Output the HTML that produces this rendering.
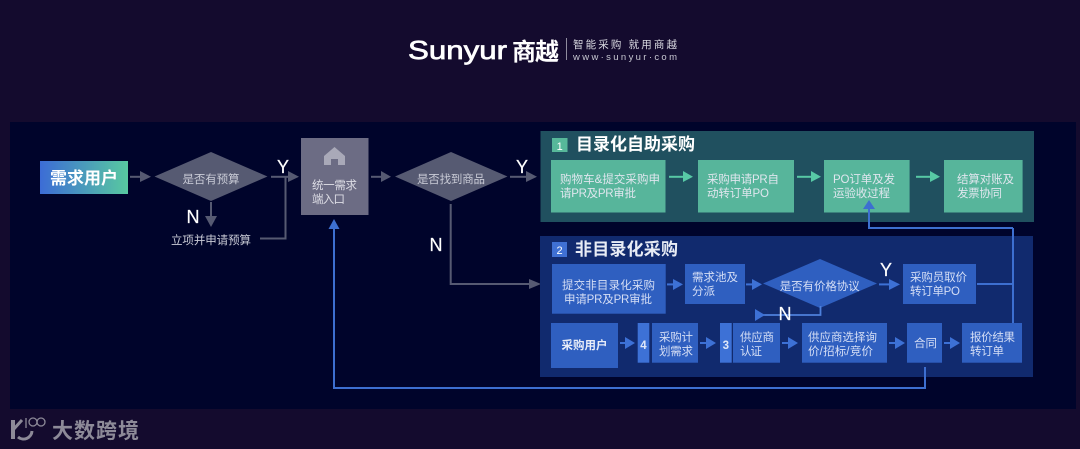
<!DOCTYPE html>
<html><head><meta charset="utf-8"><style>
html,body{margin:0;padding:0;background:#140b2e;width:1080px;height:449px;overflow:hidden}
svg{display:block;filter:blur(0.35px)}
text{font-family:"Liberation Sans","Noto Sans CJK SC",sans-serif}
.t{fill:#dfe6ee;font-size:11.5px}
.g{fill:#c9cbd6;font-size:11.5px}
.b{fill:#d5def5;font-size:11.5px}
.yn{fill:#fff;font-size:18px;stroke:#fff;stroke-width:.2px}
</style></head><body>
<svg width="1080" height="449" viewBox="0 0 1080 449" xmlns="http://www.w3.org/2000/svg">
<defs><linearGradient id="u" x1="0" x2="1" y1="0" y2="0"><stop offset="0" stop-color="#3c6cd6"/><stop offset="1" stop-color="#58c9a0"/></linearGradient></defs>
<rect width="1080" height="449" fill="#140b2e"/>
<rect x="10" y="122" width="1066" height="287" fill="#00042b"/>

<!-- logo -->
<text x="408" y="59" font-size="26" fill="#fff" stroke="#fff" stroke-width=".7" textLength="99" lengthAdjust="spacingAndGlyphs">Sunyur</text>
<text x="512" y="60" font-size="24" font-weight="bold" fill="#fff" textLength="47">商越</text>
<rect x="566" y="38" width="1" height="22" fill="#8f8c9e"/>
<text x="573" y="48" font-size="10.5" fill="#d8d8e0" textLength="104">智能采购 就用商越</text>
<text x="573" y="60" font-size="9.5" fill="#c8c8d2" textLength="104">www·sunyur·com</text>

<!-- left flow -->
<rect x="40" y="161" width="88" height="33" fill="url(#u)"/>
<text x="84" y="184" font-size="17" font-weight="bold" fill="#fff" text-anchor="middle" textLength="68">需求用户</text>
<g fill="#565a72" stroke="none">
<rect x="130" y="175.8" width="12" height="2"/><polygon points="140,171 151,176.8 140,182"/>
<polygon points="154.5,176.5 211,152 267.5,176.5 211,201"/>
<rect x="271" y="175.8" width="20" height="2"/><polygon points="288,171 299,176.8 288,182"/>
<rect x="210" y="202" width="2" height="16"/><polygon points="205,216 217,216 211,227"/>
<polygon points="395,176.5 451,152 507.5,176.5 451,201"/>
<rect x="371" y="175.8" width="12" height="2"/><polygon points="381,171 391,176.8 381,182"/>
<rect x="510" y="175.8" width="18" height="2"/><polygon points="526,171 537,176.8 526,182"/>
</g>
<path d="M260 238.5H285.5V177" fill="none" stroke="#565a72" stroke-width="2"/>
<path d="M450.7 204V284H530" fill="none" stroke="#565a72" stroke-width="2"/>
<polygon points="529,279 541,284 529,289" fill="#565a72"/>
<text class="g" x="211" y="183" text-anchor="middle" textLength="57">是否有预算</text>
<text class="g" x="451" y="183" text-anchor="middle" textLength="68">是否找到商品</text>
<text class="g" x="171" y="244" textLength="80">立项并申请预算</text>
<text class="yn" x="283" y="173" text-anchor="middle">Y</text>
<text class="yn" x="522" y="173" text-anchor="middle">Y</text>
<text class="yn" x="193" y="223" text-anchor="middle">N</text>
<text class="yn" x="436" y="251" text-anchor="middle">N</text>
<rect x="301" y="138" width="67.5" height="77" fill="#6c6c84"/>
<path d="M334.5 147L345 156V165H338V159H331V165H324V156Z" fill="#a9a9b8"/>
<text class="g" x="312" y="189" style="fill:#dcdce4" textLength="45">统一需求</text>
<text class="g" x="312" y="203" style="fill:#dcdce4" textLength="33">端入口</text>

<!-- panel 1 -->
<rect x="540.5" y="131" width="493.5" height="91" fill="#20505f"/>
<rect x="552" y="138" width="15.5" height="14" fill="#57b89a"/>
<text x="559.7" y="150" font-size="11" fill="#fff" text-anchor="middle">1</text>
<text x="576" y="150" font-size="17" font-weight="bold" fill="#fff" textLength="119">目录化自助采购</text>
<g fill="#57b59b">
<rect x="551" y="160" width="114.5" height="52.5"/>
<rect x="698" y="160" width="96" height="52.5"/>
<rect x="824" y="160" width="85.6" height="52.5"/>
<rect x="944" y="160" width="78.6" height="52.5"/>
</g>
<g fill="#57c9a5">
<rect x="669" y="175.8" width="16" height="2"/><polygon points="683,171 693,176.8 683,182"/>
<rect x="797" y="175.8" width="16" height="2"/><polygon points="811,171 821,176.8 811,182"/>
<rect x="916" y="175.8" width="16" height="2"/><polygon points="930,171 940,176.8 930,182"/>
</g>
<text class="t" x="560" y="183" textLength="100">购物车&amp;提交采购申</text>
<text class="t" x="560" y="197" textLength="76">请PR及PR审批</text>
<text class="t" x="707" y="183" textLength="72">采购申请PR自</text>
<text class="t" x="707" y="197" textLength="62">动转订单PO</text>
<text class="t" x="833" y="183" textLength="62">PO订单及发</text>
<text class="t" x="833" y="197" textLength="57">运验收过程</text>
<text class="t" x="957" y="183" textLength="57">结算对账及</text>
<text class="t" x="957" y="197" textLength="45">发票协同</text>

<!-- panel 2 -->
<rect x="540" y="236" width="493" height="141" fill="#112a6e"/>
<path d="M869 207V228H1013" fill="none" stroke="#3d6fd0" stroke-width="2"/>
<polygon points="863,209 875,209 869,200" fill="#3d6fd0"/>
<rect x="552" y="242" width="15" height="15" fill="#3f70d4"/>
<text x="559.5" y="254" font-size="11" fill="#fff" text-anchor="middle">2</text>
<text x="575" y="255" font-size="17" font-weight="bold" fill="#e8ecf5" textLength="103">非目录化采购</text>
<path d="M1013 228V323M977 284H1013" fill="none" stroke="#3d6fd0" stroke-width="2"/>
<g fill="#2f5fc0">
<rect x="552" y="264" width="113.7" height="49.7"/>
<rect x="685" y="264" width="60" height="40"/>
<polygon points="763,283.5 820,259 877,283.5 820,308"/>
<rect x="903" y="264" width="73" height="40"/>
<rect x="551" y="323" width="67" height="45"/>
<rect x="652" y="323" width="46" height="39.7"/>
<rect x="733" y="323" width="47" height="39.7"/>
<rect x="802" y="323" width="85" height="39.7"/>
<rect x="907" y="323" width="35" height="39.7"/>
<rect x="962" y="323" width="60" height="39.7"/>
</g>
<g fill="#3d71d6">
<rect x="637.7" y="323" width="11.6" height="39.7"/>
<rect x="720" y="323" width="11.7" height="39.7"/>
<rect x="667" y="283.4" width="8" height="2"/><polygon points="673,279 683,284.4 673,290"/>
<rect x="746" y="283.4" width="8" height="2"/><polygon points="752,279 762,284.4 752,290"/>
<rect x="879" y="283.4" width="12" height="2"/><polygon points="889,279 900,284.4 889,290"/>
<rect x="620" y="342" width="8" height="2"/><polygon points="625,337 635,343 625,349"/>
<rect x="700" y="342" width="8" height="2"/><polygon points="706,337 716,343 706,349"/>
<rect x="782" y="342" width="8" height="2"/><polygon points="788,337 798,343 788,349"/>
<rect x="889" y="342" width="8" height="2"/><polygon points="895,337 905,343 895,349"/>
<rect x="944" y="342" width="8" height="2"/><polygon points="950,337 960,343 950,349"/>
</g>
<path d="M820.5 306V315H760" fill="none" stroke="#4d80dc" stroke-width="1.8"/>
<polygon points="755,309 755,321 765,315" fill="#3d71d6"/>
<text class="b" x="562" y="289" textLength="93">提交非目录化采购</text>
<text class="b" x="564" y="303" textLength="88">申请PR及PR审批</text>
<text class="b" x="692" y="281" textLength="46">需求池及</text>
<text class="b" x="692" y="295" textLength="23">分派</text>
<text class="b" x="819.7" y="290" text-anchor="middle" textLength="80">是否有价格协议</text>
<text class="b" x="910" y="281" textLength="57">采购员取价</text>
<text class="b" x="910" y="295" textLength="50">转订单PO</text>
<text x="584.5" y="349" font-size="11.5" font-weight="bold" fill="#e8edf8" text-anchor="middle" textLength="46">采购用户</text>
<text x="643.5" y="349" font-size="11.5" font-weight="bold" fill="#dfe7f8" text-anchor="middle">4</text>
<text x="725.8" y="349" font-size="11.5" font-weight="bold" fill="#dfe7f8" text-anchor="middle">3</text>
<text class="b" x="659" y="341" textLength="34">采购计</text>
<text class="b" x="659" y="355" textLength="34">划需求</text>
<text class="b" x="740" y="341" textLength="34">供应商</text>
<text class="b" x="740" y="355" textLength="22">认证</text>
<text class="b" x="808" y="341" textLength="69">供应商选择询</text>
<text class="b" x="808" y="355" textLength="65">价/招标/竞价</text>
<text class="b" x="914" y="347" textLength="23">合同</text>
<text class="b" x="970" y="341" textLength="45">报价结果</text>
<text class="b" x="970" y="355" textLength="34">转订单</text>
<text class="yn" x="886" y="276" text-anchor="middle">Y</text>
<text class="yn" x="785" y="320" text-anchor="middle">N</text>

<!-- bottom return line -->
<path d="M925 367V388H334V226" fill="none" stroke="#3d6fd0" stroke-width="2"/>
<polygon points="328.5,229 339.5,229 334,219" fill="#3d6fd0"/>

<!-- footer -->
<g fill="none" stroke="#8d8a98">
<path d="M13 420V439" stroke-width="4"/>
<path d="M13 430L22 420M32 431A8.5 8.5 0 0 1 18 437" stroke-width="3"/>
<path d="M26 418V428" stroke-width="1.3"/>
<circle cx="33" cy="422" r="4" stroke-width="1.3"/>
<circle cx="41" cy="422" r="4" stroke-width="1.3"/>
</g>
<text x="52" y="438" font-size="21" font-weight="bold" fill="#8d8a98" textLength="87">大数跨境</text>
</svg>
</body></html>
